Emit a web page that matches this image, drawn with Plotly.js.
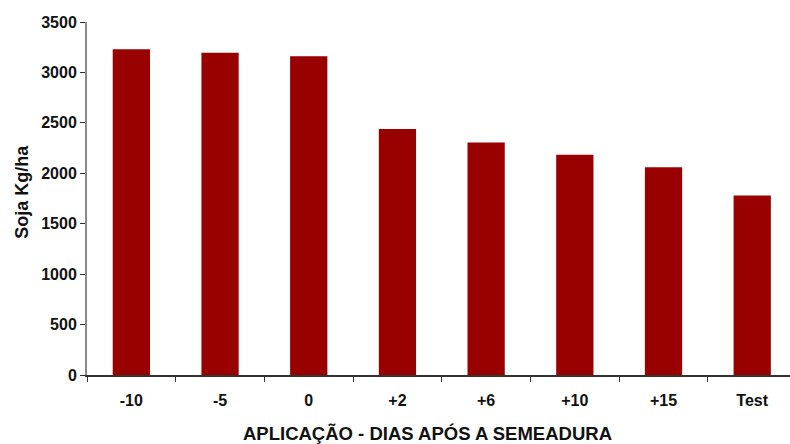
<!DOCTYPE html>
<html>
<head>
<meta charset="utf-8">
<script src="https://cdn.plot.ly/plotly-3.0.1.min.js"></script>
<style>html,body{margin:0;padding:0;background:#fff}#chart{width:790px;height:444px}</style>
</head>
<body>
<div id="chart"></div>
<script>
const categories = ["-10", "-5", "0", "+2", "+6", "+10", "+15", "Test"];
const yieldValues = [3230, 3195, 3160, 2440, 2305, 2185, 2060, 1780];
const yTickValues = [0, 500, 1000, 1500, 2000, 2500, 3000, 3500];

const font = "Liberation Sans, Arial, sans-serif";

const data = [{
  type: "bar",
  x: categories,
  y: yieldValues,
  marker: {color: "#990000", line: {width: 0}},
  width: 0.42,
  hoverinfo: "x+y"
}];

const layout = {
  width: 790,
  height: 444,
  margin: {l: 87, r: 0, t: 22, b: 69},
  paper_bgcolor: "#ffffff",
  plot_bgcolor: "#ffffff",
  showlegend: false,
  xaxis: {
    type: "category",
    range: [-0.5, 7.426],
    tickson: "boundaries",
    ticks: "outside",
    ticklen: 5,
    tickwidth: 1,
    tickcolor: "#333",
    showline: true,
    linecolor: "#333",
    linewidth: 2,
    showgrid: false,
    zeroline: false,
    ticklabelstandoff: 10,
    tickfont: {family: font, size: 16, color: "#111", weight: "bold"},
    fixedrange: true
  },
  yaxis: {
    range: [0, 3500],
    tickvals: yTickValues,
    ticktext: yTickValues.map(String),
    ticks: "outside",
    ticklen: 5,
    tickwidth: 1,
    tickcolor: "#333",
    showline: true,
    linecolor: "#888",
    linewidth: 2,
    showgrid: false,
    zeroline: false,
    tickfont: {family: font, size: 16, color: "#111", weight: "bold"},
    fixedrange: true
  },
  annotations: [
    {text: "<b>Soja Kg/ha</b>", xref: "paper", yref: "paper", x: -0.092, y: 0.52,
     xanchor: "center", yanchor: "middle", textangle: -90, showarrow: false,
     font: {family: font, size: 18, color: "#111"}},
    {text: "<b>APLICAÇÃO - DIAS APÓS A SEMEADURA</b>", xref: "paper", yref: "paper", x: 0.485, y: -0.13,
     xanchor: "center", yanchor: "top", showarrow: false,
     font: {family: font, size: 18.5, color: "#111"}}
  ]
};

Plotly.newPlot("chart", data, layout, {displayModeBar: false, staticPlot: true});
</script>
</body>
</html>
